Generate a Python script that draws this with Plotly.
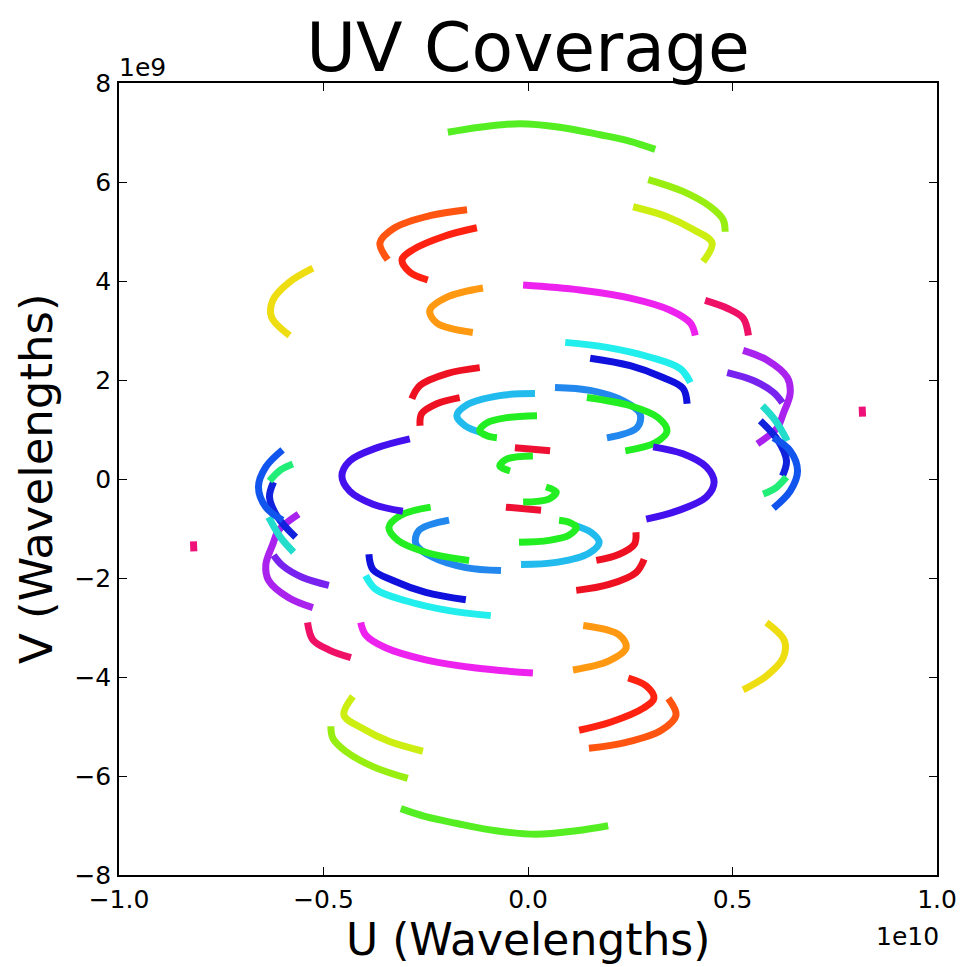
import plotly.graph_objects as go

# u in units of 1e10 wavelengths, v in units of 1e9 wavelengths (one of each conjugate pair)
green_top_u = [-0.196, -0.118, -0.020, 0.078, 0.176, 0.250, 0.311]
green_top_v = [7.005, 7.107, 7.178, 7.107, 6.955, 6.822, 6.66]
chartreuse_u = [0.294, 0.379, 0.446, 0.477, 0.482]
chartreuse_v = [6.05, 5.81, 5.50, 5.24, 4.995]
limeyellow_u = [0.257, 0.340, 0.404, 0.450, 0.428]
limeyellow_v = [5.50, 5.30, 5.04, 4.77, 4.39]
orangered_u = [-0.149, -0.240, -0.326, -0.362, -0.343]
orangered_v = [5.44, 5.32, 5.076, 4.77, 4.43]
red_top_u = [-0.125, -0.203, -0.282, -0.308, -0.289, -0.245]
red_top_v = [5.076, 4.91, 4.63, 4.43, 4.18, 4.02]
yellow_u = [-0.526, -0.583, -0.624, -0.627, -0.583]
yellow_v = [4.26, 3.98, 3.61, 3.27, 2.90]
orange_u = [-0.110, -0.198, -0.240, -0.223, -0.135]
orange_v = [3.86, 3.675, 3.41, 3.15, 2.96]
magenta_u = [-0.012, 0.127, 0.250, 0.348, 0.397, 0.409]
magenta_v = [3.92, 3.82, 3.655, 3.41, 3.15, 2.90]
pinkred_u = [0.433, 0.487, 0.526, 0.539]
pinkred_v = [3.61, 3.45, 3.25, 2.90]
purple_u = [0.526, 0.585, 0.634, 0.641, 0.624, 0.610, 0.561]
purple_v = [2.60, 2.40, 2.05, 1.73, 1.32, 1.04, 0.71]
violet_u = [0.487, 0.551, 0.600, 0.622]
violet_v = [2.15, 1.99, 1.75, 1.54]
cyan_u = [0.091, 0.193, 0.299, 0.372, 0.397]
cyan_v = [2.76, 2.66, 2.46, 2.23, 1.95]
blue_u = [0.152, 0.250, 0.330, 0.379, 0.389]
blue_v = [2.44, 2.29, 2.05, 1.83, 1.52]
dodger_u = [0.066, 0.152, 0.233, 0.274, 0.267, 0.193]
dodger_v = [1.85, 1.79, 1.58, 1.32, 1.04, 0.83]
green_r_u = [0.144, 0.250, 0.318, 0.340, 0.311, 0.238]
green_r_v = [1.645, 1.48, 1.24, 0.975, 0.731, 0.569]
skyblue_u = [0.017, -0.069, -0.149, -0.174, -0.154, -0.113]
skyblue_v = [1.726, 1.685, 1.50, 1.28, 1.076, 0.934]
green_in_u = [0.022, -0.051, -0.100, -0.118, -0.100, -0.076]
green_in_v = [1.28, 1.24, 1.137, 0.975, 0.873, 0.832]
red1_u = [-0.118, -0.198, -0.264, -0.284]
red1_v = [2.25, 2.13, 1.89, 1.62]
red2_u = [-0.167, -0.223, -0.260, -0.264]
red2_v = [1.645, 1.52, 1.32, 1.076]
red_c_u = [-0.032, 0.054]
red_c_v = [0.63, 0.569]
green_c_u = [0.012, -0.051, -0.069, -0.044]
green_c_v = [0.467, 0.406, 0.264, 0.162]
violet_big_u = [-0.289, -0.370, -0.436, -0.455, -0.436, -0.379, -0.306]
violet_big_v = [0.812, 0.629, 0.365, 0.061, -0.244, -0.508, -0.650]
blueA_u = [0.600, 0.641, 0.659, 0.641, 0.600]
blueA_v = [0.832, 0.569, 0.162, -0.244, -0.589]
blueB_u = [0.568, 0.612, 0.632, 0.622]
blueB_v = [1.178, 0.772, 0.365, 0.061]
green_cl_u = [0.575, 0.605, 0.632]
green_cl_v = [-0.305, -0.183, 0.041]
teal_cl_u = [0.573, 0.605, 0.634]
teal_cl_v = [1.48, 1.18, 0.77]
dot_u = [0.817, 0.818]
dot_v = [1.46, 1.26]

x_tickvals = [-1.0, -0.5, 0.0, 0.5, 1.0]
x_ticktext = ["\u22121.0", "\u22120.5", "0.0", "0.5", "1.0"]
y_tickvals = [-8, -6, -4, -2, 0, 2, 4, 6, 8]
y_ticktext = ["\u22128", "\u22126", "\u22124", "\u22122", "0", "2", "4", "6", "8"]

arcs = [
    (green_top_u, green_top_v, "#55ee22"),
    (chartreuse_u, chartreuse_v, "#99ee11"),
    (limeyellow_u, limeyellow_v, "#ccee11"),
    (orangered_u, orangered_v, "#ff5511"),
    (red_top_u, red_top_v, "#ff2211"),
    (yellow_u, yellow_v, "#eedd11"),
    (orange_u, orange_v, "#ff9911"),
    (magenta_u, magenta_v, "#ee22ee"),
    (pinkred_u, pinkred_v, "#ee1166"),
    (purple_u, purple_v, "#aa22ee"),
    (violet_u, violet_v, "#7722ee"),
    (cyan_u, cyan_v, "#22eeee"),
    (blue_u, blue_v, "#1111dd"),
    (dodger_u, dodger_v, "#2288ee"),
    (green_r_u, green_r_v, "#22ee22"),
    (skyblue_u, skyblue_v, "#22bbee"),
    (green_in_u, green_in_v, "#22ee22"),
    (red1_u, red1_v, "#ee1122"),
    (red2_u, red2_v, "#ee1122"),
    (red_c_u, red_c_v, "#ee1133"),
    (green_c_u, green_c_v, "#22ee22"),
    (violet_big_u, violet_big_v, "#4411ee"),
    (teal_cl_u, teal_cl_v, "#22ddcc"),
    (blueB_u, blueB_v, "#1122dd"),
    (blueA_u, blueA_v, "#1155ee"),
    (green_cl_u, green_cl_v, "#22ee77"),
    (dot_u, dot_v, "#ee1177"),
]

fig = go.Figure()
for u, v, c in arcs:
    for s in (1, -1):
        fig.add_trace(go.Scatter(
            x=[s * a for a in u], y=[s * b for b in v], mode="lines",
            line=dict(color=c, width=7, shape="spline"), showlegend=False,
            hoverinfo="skip"))

font = "DejaVu Sans"
axis_common = dict(showline=True, linecolor="black", linewidth=1.5, mirror="ticks",
                   ticks="inside", ticklen=8, tickwidth=1, tickcolor="black",
                   showgrid=False, zeroline=False, automargin=False,
                   tickfont=dict(family=font, size=25, color="black"))
fig.update_xaxes(range=[-1, 1], tickvals=x_tickvals, ticktext=x_ticktext,
                 ticklabelstandoff=1, **axis_common)
fig.update_yaxes(range=[-8, 8], tickvals=y_tickvals, ticktext=y_ticktext,
                 ticklabelstandoff=1, **axis_common)

fig.update_layout(
    width=960, height=967, autosize=False,
    margin=dict(l=119, r=23, t=83, b=92, autoexpand=False),
    paper_bgcolor="white", plot_bgcolor="white",
    title=dict(text="UV Coverage", x=0.5, xanchor="center", xref="paper",
               y=1 - 47 / 967, yref="container", yanchor="middle",
               font=dict(family=font, size=68, color="black")),
    annotations=[
        dict(text="U (Wavelengths)", x=0.5, y=(875 - 939) / 792, xref="paper", yref="paper",
             xanchor="center", yanchor="middle", showarrow=False,
             font=dict(family=font, size=44, color="black")),
        dict(text="V (Wavelengths)", x=(36 - 119) / 818, y=0.5, xref="paper", yref="paper",
             xanchor="center", yanchor="middle", textangle=-90, showarrow=False,
             font=dict(family=font, size=45, color="black")),
        dict(text="1e9", x=0, y=(875 - 68) / 792, xref="paper", yref="paper",
             xanchor="left", yanchor="middle", showarrow=False, xshift=-2,
             font=dict(family=font, size=25, color="black")),
        dict(text="1e10", x=1, y=(875 - 936) / 792, xref="paper", yref="paper",
             xanchor="right", yanchor="middle", showarrow=False, xshift=4,
             font=dict(family=font, size=25, color="black")),
    ],
)

fig.write_html("out.html")
